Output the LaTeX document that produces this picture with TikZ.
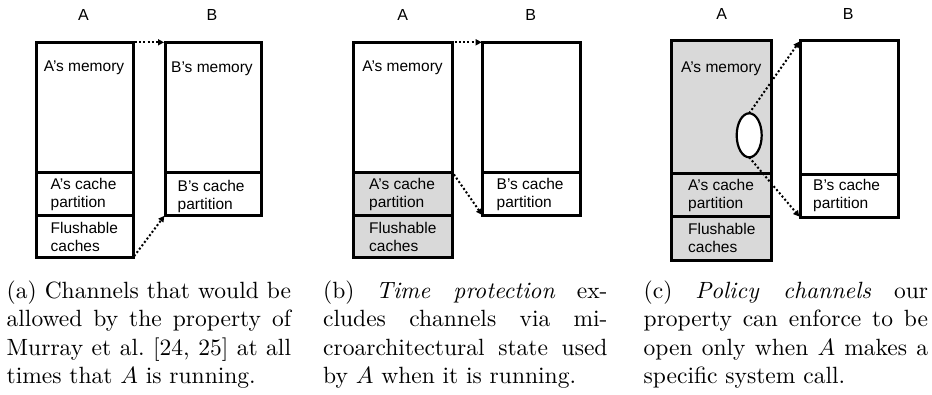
\documentclass[tikz,border=0pt]{standalone}
\usepackage{fontspec}
\newfontfamily\arialf{Liberation Sans}
\usetikzlibrary{arrows.meta,shapes.geometric}
\definecolor{boxgray}{RGB}{217,217,217}
\tikzset{
  blk/.style={draw=black, line width=3pt, rectangle, inner sep=0pt, outer sep=0pt},
  gblk/.style={blk, fill=boxgray},
  lbl/.style={font=\arialf\fontsize{15.5}{18}\selectfont, inner sep=0pt, align=left},
  ttl/.style={font=\arialf\fontsize{16}{18}\selectfont, inner sep=0pt},
  chan/.style={line width=2pt, dash pattern=on 2pt off 2.2pt, shorten <=2pt, shorten >=1pt,
    -{Triangle[length=6pt,width=6pt]}},
  capt/.style={inner sep=0pt, anchor=north west},
}
\newcommand{\capbox}[1]{\scalebox{2.35}{\parbox[t]{121pt}{\fontsize{10}{12.1}\selectfont #1}}}
\begin{document}
\begin{tikzpicture}[x=1pt,y=-1pt]
\useasboundingbox (0,0) rectangle (932,394);
\fill[white] (0,0) rectangle (932,394);

% ---------- panel (a)
\node[ttl] (aA) at (83.5,15) {A};
\node[ttl] (aB) at (212,15) {B};
\node[blk, minimum width=96.3pt, minimum height=130.4pt] (aAm) at (84.85,107.5) {};
\node[blk, minimum width=96.3pt, minimum height=43pt] (aAc) at (84.85,194.2) {};
\node[blk, minimum width=96.3pt, minimum height=42pt] (aAf) at (84.85,236.7) {};
\node[blk, minimum width=96.7pt, minimum height=130.4pt] (aBm) at (213.35,107.5) {};
\node[blk, minimum width=96.7pt, minimum height=42.3pt] (aBc) at (213.35,193.85) {};
\node[lbl] (aAmt) at (84,68) {A’s memory};
\node[lbl] (aBmt) at (212,69) {B’s memory};
\node[lbl, anchor=west] (aAct) at (50.5,194) {A’s cache\\partition};
\node[lbl, anchor=west] (aAft) at (50.5,237) {Flushable\\caches};
\node[lbl, anchor=west] (aBct) at (177.5,196) {B’s cache\\partition};
\draw[chan] (aAm.north east) -- (aBm.north west);
\draw[chan] (aAf.south east) -- (aBc.south west);

% ---------- panel (b)
\node[ttl] (bA) at (402.7,15) {A};
\node[ttl] (bB) at (530.7,15) {B};
\node[blk, minimum width=99.4pt, minimum height=130.4pt] (bAm) at (403,107.5) {};
\node[gblk, minimum width=99.4pt, minimum height=43pt] (bAc) at (403,194.2) {};
\node[gblk, minimum width=99.4pt, minimum height=42pt] (bAf) at (403,236.7) {};
\node[blk, minimum width=97.3pt, minimum height=130.4pt] (bBm) at (531.35,107.5) {};
\node[blk, minimum width=97.3pt, minimum height=43pt] (bBc) at (531.35,194.2) {};
\node[lbl] (bAmt) at (402.5,68) {A’s memory};
\node[lbl, anchor=west] (bAct) at (369,194) {A’s cache\\partition};
\node[lbl, anchor=west] (bAft) at (369,237) {Flushable\\caches};
\node[lbl, anchor=west] (bBct) at (496.5,194.5) {B’s cache\\partition};
\draw[chan] (bAm.north east) -- (bBm.north west);
\draw[chan] (bAm.south east) -- (bBc.south west);

% ---------- panel (c)
\node[ttl] (cA) at (721.7,14) {A};
\node[ttl] (cB) at (848.3,14) {B};
\node[gblk, minimum width=100pt, minimum height=132.6pt] (cAm) at (721.7,107) {};
\node[gblk, minimum width=100pt, minimum height=42.7pt] (cAc) at (721.7,194.65) {};
\node[gblk, minimum width=100pt, minimum height=44pt] (cAf) at (721.7,238) {};
\node[blk, minimum width=98.3pt, minimum height=133.6pt] (cBm) at (849.15,107.5) {};
\node[blk, minimum width=98.3pt, minimum height=43pt] (cBc) at (849.15,195.8) {};
\node[lbl] (cAmt) at (721.3,68.3) {A’s memory};
\node[lbl, anchor=west] (cAct) at (688,195) {A’s cache\\partition};
\node[lbl, anchor=west] (cAft) at (688,238) {Flushable\\caches};
\node[lbl, anchor=west] (cBct) at (813,195.5) {B’s cache\\partition};
\node[draw=black, fill=white, ellipse, line width=2.2pt, minimum width=25pt, minimum height=44pt,
  inner sep=0pt, outer sep=0pt] (ell) at (749.2,135.3) {};
\draw[chan, shorten <=0pt] (ell.north) -- (cBm.north west);
\draw[chan, shorten <=0pt] (ell.south) -- (cBc.south west);

% ---------- captions
\node[capt] (capa) at (6.5,280.5) {\capbox{(a) Channels that would be\linebreak allowed by the property of\linebreak Murray et al.\ [24, 25] at all\linebreak times that $A$ is running.}};
\node[capt] (capb) at (323,280.5) {\capbox{(b) \emph{Time protection} ex-\linebreak cludes channels via mi-\linebreak croarchitectural state used\linebreak by $A$ when it is running.}};
\node[capt] (capc) at (643.5,280.5) {\capbox{(c) \emph{Policy channels} our\linebreak property can enforce to be\linebreak open only when $A$ makes a\linebreak specific system call.}};
\end{tikzpicture}
\end{document}
